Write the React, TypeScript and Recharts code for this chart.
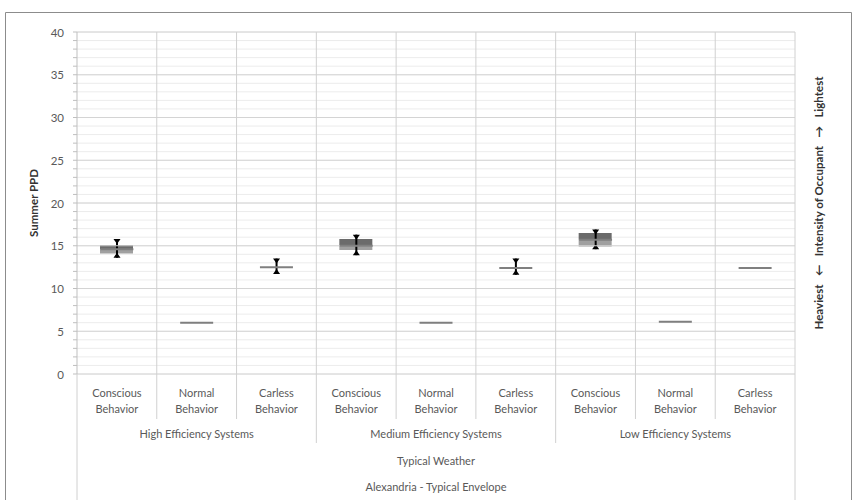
import React from 'react';
import { ComposedChart, Bar, Line, XAxis, YAxis, CartesianGrid, ReferenceLine } from 'recharts';

// ---- data ----
const behaviors = [
  'Conscious Behavior', 'Normal Behavior', 'Carless Behavior',
  'Conscious Behavior', 'Normal Behavior', 'Carless Behavior',
  'Conscious Behavior', 'Normal Behavior', 'Carless Behavior',
];
const systems = ['High Efficiency Systems', 'Medium Efficiency Systems', 'Low Efficiency Systems'];
const weatherLabel = 'Typical Weather';
const siteLabel = 'Alexandria - Typical Envelope';

const q1Values = [14.1, 6.0, 12.5, 14.5, 6.0, 12.4, 14.9, 6.1, 12.4];
const medianValues = [14.6, 6.0, 12.5, 15.0, 6.0, 12.4, 15.7, 6.1, 12.4];
const q3Values = [15.1, 6.0, 12.5, 15.8, 6.0, 12.4, 16.5, 6.1, 12.4];
const whiskerLow = [13.6, 6.0, 11.7, 13.9, 6.0, 11.6, 14.6, 6.1, 12.4];
const whiskerHigh = [15.8, 6.0, 13.5, 16.3, 6.0, 13.5, 16.9, 6.1, 12.4];

const yTicks = Array.from({ length: 41 }, (_, i) => i);
const majorTicks = [5, 10, 15, 20, 25, 30, 35, 40];

// ---- layout ----
const W = 857;
const H = 500;
const PLOT_LEFT = 77;
const PLOT_RIGHT = 795;
const PLOT_TOP = 32;
const AXIS_H = 126;
const PLOT_BOTTOM = H - AXIS_H;
const BAND = (PLOT_RIGHT - PLOT_LEFT) / behaviors.length;
const FONT = 'Lato, "Open Sans", sans-serif';
const TXT = '#595959';
const SEP = '#d0d0d0';

const data = behaviors.map((b, i) => ({
  key: `${systems[Math.floor(i / 3)]}|${b}`,
  base: q1Values[i],
  lower: medianValues[i] - q1Values[i],
  upper: q3Values[i] - medianValues[i],
  med: medianValues[i],
  range: [whiskerLow[i], whiskerHigh[i]],
}));

const XTick = (props: any) => {
  const { x, payload } = props;
  const i = payload.index;
  const y0 = PLOT_BOTTOM;
  const words = behaviors[i].split(' ');
  const right = x + BAND / 2;
  const left = x - BAND / 2;
  let sepEnd = 419;
  if (i === 2 || i === 5) sepEnd = 443;
  if (i === behaviors.length - 1) sepEnd = 500;
  return (
    <g>
      <line x1={right} x2={right} y1={PLOT_TOP} y2={sepEnd} stroke={SEP} strokeWidth={1} />
      {i === 0 && <line x1={left} x2={left} y1={y0} y2={500} stroke={SEP} strokeWidth={1} />}
      <text x={x} y={y0 + 18} textAnchor="middle" dominantBaseline="central" fill={TXT} fontSize={11} fontFamily={FONT}>
        {words[0]}
      </text>
      <text x={x} y={y0 + 34} textAnchor="middle" dominantBaseline="central" fill={TXT} fontSize={11} fontFamily={FONT}>
        {words.slice(1).join(' ')}
      </text>
      {i % 3 === 1 && (
        <text x={x} y={433} textAnchor="middle" dominantBaseline="central" fill={TXT} fontSize={11} fontFamily={FONT}>
          {systems[Math.floor(i / 3)]}
        </text>
      )}
      {i === 4 && (
        <text x={x} y={460} textAnchor="middle" dominantBaseline="central" fill={TXT} fontSize={11} fontFamily={FONT}>
          {weatherLabel}
        </text>
      )}
      {i === 4 && (
        <text x={x} y={486} textAnchor="middle" dominantBaseline="central" fill={TXT} fontSize={11} fontFamily={FONT}>
          {siteLabel}
        </text>
      )}
    </g>
  );
};

const YTick = (props: any) => {
  const { x, y, payload } = props;
  if (payload.value % 5 !== 0) return <g />;
  return (
    <text x={x} y={y} textAnchor="end" dominantBaseline="central" fill={TXT} fontSize={11.5} fontFamily={FONT}>
      {payload.value}
    </text>
  );
};

const Whisker = (props: any) => {
  const { x, y, width, height } = props;
  const h = Math.abs(height);
  if (!(h > 1)) return <g />;
  const top = Math.min(y, y + height);
  const bottom = top + h;
  const cx = x + width / 2;
  const cw = 3.5;
  const ch = 5;
  return (
    <g>
      <line x1={cx} x2={cx} y1={top} y2={bottom} stroke="#000" strokeWidth={2} />
      <polygon points={`${cx - cw},${top} ${cx + cw},${top} ${cx},${top + ch}`} fill="#000" />
      <polygon points={`${cx - cw},${bottom} ${cx + cw},${bottom} ${cx},${bottom - ch}`} fill="#000" />
    </g>
  );
};

const MedianDot = (props: any) => {
  const { cx, cy, index } = props;
  if (cx == null || cy == null) return <g key={index} />;
  return <line key={index} x1={cx - 16.5} x2={cx + 16.5} y1={cy} y2={cy} stroke="#7f7f7f" strokeWidth={2} />;
};

export default function App() {
  return (
    <div style={{ position: 'absolute', left: 0, top: 0, width: W, height: H, background: '#fff' }}>
      <ComposedChart
        width={W}
        height={H}
        data={data}
        margin={{ top: PLOT_TOP, right: W - PLOT_RIGHT, bottom: 0, left: 0 }}
        barCategoryGap="29%"
        style={{ fontFamily: FONT }}
      >
        <CartesianGrid horizontal vertical={false} stroke="#ececec" strokeWidth={1} />
        {majorTicks.map((t) => (
          <ReferenceLine key={t} y={t} stroke="#d4d4d4" strokeWidth={1} ifOverflow="extendDomain" />
        ))}
        <XAxis
          xAxisId="main"
          dataKey="key"
          type="category"
          height={AXIS_H}
          interval={0}
          tickLine={false}
          axisLine={{ stroke: '#d4d4d4' }}
          tick={<XTick />}
        />
        <XAxis xAxisId="w" dataKey="key" type="category" hide />
        <YAxis
          width={PLOT_LEFT}
          domain={[0, 40]}
          ticks={yTicks}
          interval={0}
          tickSize={4}
          tickMargin={9}
          tickLine={{ stroke: '#bfbfbf' }}
          axisLine={{ stroke: '#bfbfbf' }}
          tick={<YTick />}
        />
        <Bar xAxisId="main" dataKey="base" stackId="box" fill="transparent" barSize={33} isAnimationActive={false} />
        <Bar xAxisId="main" dataKey="lower" stackId="box" fill="#a0a0a0" barSize={33} isAnimationActive={false} />
        <Bar xAxisId="main" dataKey="upper" stackId="box" fill="#6b6b6b" barSize={33} isAnimationActive={false} />
        <Line xAxisId="main" dataKey="med" stroke="none" dot={MedianDot} activeDot={false} isAnimationActive={false} />
        <Bar xAxisId="w" dataKey="range" barSize={10} shape={<Whisker />} isAnimationActive={false} />
      </ComposedChart>
      <svg width={W} height={H} style={{ position: 'absolute', left: 0, top: 0, pointerEvents: 'none' }}>
        <path d="M5.5,500 L5.5,12.5 L851.5,12.5 L851.5,500" fill="none" stroke="#8c8c8c" strokeWidth={1} />
        <text
          transform={`translate(33, ${(PLOT_TOP + PLOT_BOTTOM) / 2}) rotate(-90)`}
          textAnchor="middle"
          dominantBaseline="central"
          fill="#333"
          fontSize={11.5}
          fontWeight="bold"
          fontFamily={FONT}
        >
          Summer PPD
        </text>
        <text
          transform={`translate(818, ${(PLOT_TOP + PLOT_BOTTOM) / 2}) rotate(-90)`}
          textAnchor="middle"
          dominantBaseline="central"
          fill="#333"
          fontSize={11.5}
          fontWeight="bold"
          fontFamily={FONT}
          style={{ whiteSpace: 'pre' }}
        >
          {'Heaviest   \u2190   Intensity of Occupant   \u2192   Lightest'}
        </text>
      </svg>
    </div>
  );
}
